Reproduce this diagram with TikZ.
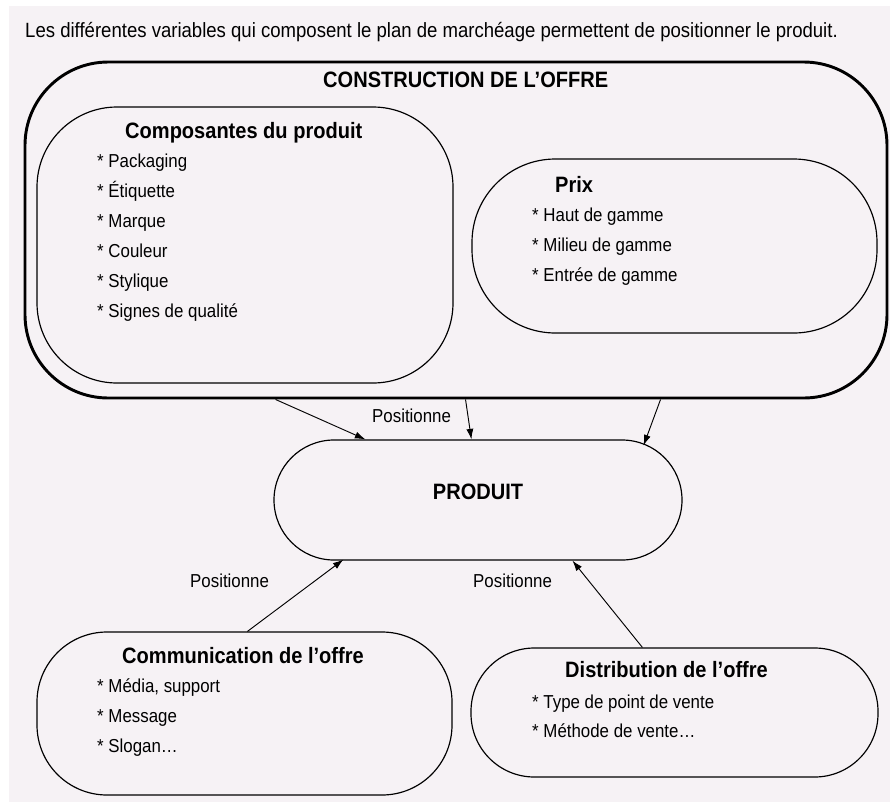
\documentclass[tikz,border=0pt]{standalone}
\usepackage{fontspec}
\setmainfont{Liberation Sans}[FakeStretch=0.9]
\usetikzlibrary{fit,calc,arrows.meta}
\definecolor{fond}{RGB}{246,242,245}

\begin{document}
\begin{tikzpicture}[x=0.03cm, y=-0.03cm,
    boite/.style={draw, line width=1pt, inner sep=0pt, rounded corners=#1},
    boite/.default=2.4cm,
    titre/.style={anchor=base west, inner sep=0pt, font=\fontsize{19}{22}\selectfont\bfseries},
    item/.style={anchor=base west, inner sep=0pt, font=\fontsize{16}{19}\selectfont},
    fleche/.style={-{Latex[length=9pt,width=6pt]}, line width=0.8pt}]
  \useasboundingbox (0,0) rectangle (890,802);
  \fill[fond] (9,6) rectangle (890,802);
  \node[item, font=\fontsize{17.6}{20}\selectfont] (intro) at (25,37) {Les différentes variables qui composent le plan de marchéage permettent de positionner le produit.};
  %
  \node[boite=2.5cm, line width=2.5pt, fit={(25,62) (887,398)}] (offre) {};
  \node[titre] (toffre) at (323,87) {CONSTRUCTION DE L’OFFRE};
  \node[boite, fit={(37,107) (453,383)}] (compo) {};
  \node[titre] (tcompo) at (125,138) {Composantes du produit};
  \foreach \t [count=\i] in {Packaging, Étiquette, Marque, Couleur, Stylique, Signes de qualité}
    \node[item] (compo\i) at (97,137+30*\i) {* \t};
  \node[boite=2.5cm, fit={(472,159) (877,333)}] (prix) {};
  \node[titre] (tprix) at (555,192) {Prix};
  \foreach \t [count=\i] in {Haut de gamme, Milieu de gamme, Entrée de gamme}
    \node[item] (prix\i) at (532,191+30*\i) {* \t};
  %
  \node[boite=1.8cm, fit={(274,440) (682,560)}, font=\fontsize{19}{22}\selectfont\bfseries] (produit) {PRODUIT};
  %
  \node[boite=2.1cm, fit={(37,632) (452,795)}] (comm) {};
  \node[titre] (tcomm) at (122,663) {Communication de l’offre};
  \foreach \t [count=\i] in {{Média, support}, Message, {Slogan\ldots}}
    \node[item] (comm\i) at (97,662+30*\i) {* \t};
  \node[boite=1.9cm, fit={(471,648) (878,777)}] (distri) {};
  \node[titre] (tdistri) at (565,677) {Distribution de l’offre};
  \foreach \t [count=\i] in {Type de point de vente, {Méthode de vente\ldots}}
    \node[item] (distri\i) at (532,679+29*\i) {* \t};
  %
  \draw[fleche] ($(offre.south west)+(252,0)$) -- ($(produit.north west)+(92,0)$);
  \draw[fleche] ($(offre.south west)+(442,0)$) -- ($(produit.north west)+(198,0)$);
  \draw[fleche] ($(offre.south west)+(637,0)$) -- ($(produit.north east)+(-39,6)$);
  \node[item] (pos1) at (372,422) {Positionne};
  \draw[fleche] ($(comm.north west)+(211,0)$) -- ($(produit.south west)+(70,-1)$);
  \node[item] (pos2) at (190,587) {Positionne};
  \draw[fleche] ($(distri.north west)+(172,0)$) -- ($(produit.south west)+(299,0)$);
  \node[item] (pos3) at (473,587) {Positionne};
\end{tikzpicture}
\end{document}
